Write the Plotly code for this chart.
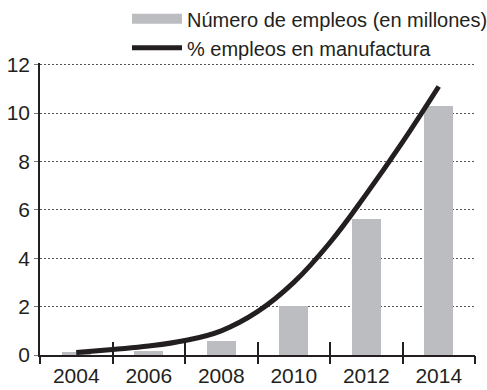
import plotly.graph_objects as go

# Employment data
bar_years = [2004, 2006, 2008, 2010, 2012, 2014]
empleos_millones = [0.12, 0.18, 0.58, 2.02, 5.63, 10.3]

line_years = list(range(2004, 2015))
pct_manufactura = [0.1, 0.23, 0.37, 0.6, 1.0, 1.79, 3.0, 4.65, 6.65, 8.8, 11.1]

tick_labels = ["2004", "2006", "2008", "2010", "2012", "2014"]
boundaries = [2003, 2005, 2007, 2009, 2011, 2013, 2015]
y_ticks = [0, 2, 4, 6, 8, 10, 12]

INK = "#231f20"
GREY = "#bcbdc0"
FONT = "Liberation Sans, Arial, sans-serif"

fig = go.Figure()

fig.add_trace(go.Bar(
    x=bar_years, y=empleos_millones, width=0.8,
    marker=dict(color=GREY, line=dict(width=0)),
    showlegend=False, xaxis="x", yaxis="y",
))

# Legend swatch for the bars (wide grey block)
fig.add_trace(go.Scatter(
    x=[None], y=[None], mode="lines",
    line=dict(color=GREY, width=15),
    name="Número de empleos (en millones)",
    xaxis="x2", yaxis="y",
))

fig.add_trace(go.Scatter(
    x=line_years, y=pct_manufactura, mode="lines",
    line=dict(color=INK, width=5, shape="spline", smoothing=1.2),
    name="% empleos en manufactura",
    xaxis="x3", yaxis="y",
))

xrange = [2003, 2015]

fig.update_layout(
    width=487, height=390,
    margin=dict(l=40, r=12, t=63, b=35, autoexpand=False),
    paper_bgcolor="white", plot_bgcolor="white",
    font=dict(family=FONT, size=20, color=INK),
    bargap=0,
    xaxis=dict(
        range=xrange, tickvals=bar_years, ticktext=tick_labels,
        ticks="outside", ticklen=1, tickcolor="rgba(0,0,0,0)",
        showgrid=False, zeroline=False,
        showline=True, linecolor=INK, linewidth=1.5,
        tickfont=dict(size=21, color=INK),
    ),
    xaxis2=dict(
        range=xrange, overlaying="x", anchor="y",
        tickvals=boundaries, ticks="outside", ticklen=8, tickwidth=1.5,
        tickcolor=INK, showticklabels=False, showgrid=False,
        zeroline=False, showline=False,
    ),
    xaxis3=dict(
        range=xrange, overlaying="x", anchor="y",
        tickvals=boundaries, ticks="inside", ticklen=13, tickwidth=1.5,
        tickcolor=INK, showticklabels=False, showgrid=False,
        zeroline=False, showline=False,
    ),
    yaxis=dict(
        range=[0, 12.07], tickvals=y_ticks,
        ticks="outside", ticklen=4, tickcolor="#777", tickwidth=1,
        showgrid=True, gridcolor="#555", gridwidth=1, griddash="2px,2px",
        zeroline=False, showline=True, linecolor=INK, linewidth=1.5,
        tickfont=dict(size=21, color=INK),
    ),
    legend=dict(
        x=0.2, y=1.218, xanchor="left", yanchor="top",
        bgcolor="rgba(0,0,0,0)", itemwidth=50,
        font=dict(size=20, color=INK), tracegroupgap=0,
    ),
)

fig.write_html("out.html")
